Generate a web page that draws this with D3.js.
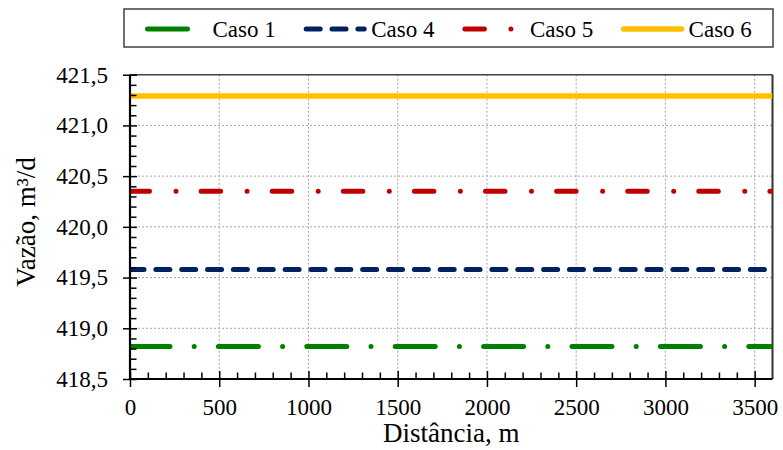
<!DOCTYPE html>
<html>
<head>
<meta charset="utf-8">
<script src="https://cdn.jsdelivr.net/npm/d3@7"></script>
<style>
  body { margin: 0; background: #fff; }
  svg { display: block; font-family: "Times New Roman", "Liberation Serif", serif; }
</style>
</head>
<body>
<div id="chart"></div>
<script>
// distances (m) and flow (m3/d) for each case
var distancia = [0, 3600];
var caso1 = [418.82, 418.82];
var caso4 = [419.58, 419.58];
var caso5 = [420.35, 420.35];
var caso6 = [421.29, 421.29];

var nomes = ["Caso 1", "Caso 4", "Caso 5", "Caso 6"];
var cores = ["#008000", "#002060", "#C00000", "#FFC000"];
var tracos = ["40,24.2,0,24.2", "14,11.85", "19.5,26.5,0,25.1", null];

var xTicks = [0, 500, 1000, 1500, 2000, 2500, 3000, 3500];
var yTicks = [418.5, 419.0, 419.5, 420.0, 420.5, 421.0, 421.5];

(function() {
  var width = 783, height = 450;
  var pLeft = 130, pRight = 772.5, pTop = 74.7, pBottom = 379;

  var svg = d3.select("#chart").append("svg")
      .attr("width", width)
      .attr("height", height);

  var x = d3.scaleLinear().domain([0, 3600]).range([pLeft, pRight]);
  var y = d3.scaleLinear().domain([418.5, 421.5]).range([pBottom, pTop]);

  var br = d3.formatLocale({decimal: ",", thousands: ".", grouping: [3], currency: ["", ""]});
  var fy = br.format(".1f");

  // grid
  var grid = svg.append("g").attr("class", "grid");
  grid.selectAll(".gx").data(xTicks.slice(1))
      .enter().append("line")
      .attr("x1", function(d){ return x(d); }).attr("x2", function(d){ return x(d); })
      .attr("y1", pTop).attr("y2", pBottom)
      .style("stroke", "#a6a6a6").style("stroke-width", 1).style("stroke-dasharray", "2,2");
  grid.selectAll(".gy").data(yTicks.slice(1, -1))
      .enter().append("line")
      .attr("y1", function(d){ return y(d); }).attr("y2", function(d){ return y(d); })
      .attr("x1", pLeft).attr("x2", pRight)
      .style("stroke", "#a6a6a6").style("stroke-width", 1).style("stroke-dasharray", "2,2");

  // frame top/right
  svg.append("line").attr("x1", pLeft).attr("x2", pRight).attr("y1", pTop).attr("y2", pTop)
      .style("stroke", "#404040").style("stroke-width", 1.5);
  svg.append("line").attr("x1", pRight).attr("x2", pRight).attr("y1", pTop).attr("y2", pBottom)
      .style("stroke", "#333").style("stroke-width", 2);

  svg.append("clipPath").attr("id", "clip")
    .append("rect").attr("x", pLeft).attr("y", pTop - 5).attr("width", pRight - pLeft).attr("height", pBottom - pTop + 10);

  var series = [caso1, caso4, caso5, caso6];
  var line = d3.line()
      .x(function(d, i){ return x(distancia[i]); })
      .y(function(d){ return y(d); });

  var lines = svg.append("g").attr("clip-path", "url(#clip)");
  series.forEach(function(s, i) {
    lines.append("path")
        .datum(s)
        .attr("d", line)
        .style("fill", "none")
        .style("stroke", cores[i])
        .style("stroke-width", i == 3 ? 5.5 : 5)
        .style("stroke-linecap", tracos[i] ? "round" : "butt")
        .style("stroke-dasharray", tracos[i]);
  });

  // minor ticks
  var xMinor = d3.range(100, 3600, 100).filter(function(d){ return d % 500 != 0; });
  var yMinor = d3.range(1, 30).map(function(d){ return 418.5 + d / 10; })
      .filter(function(d, i){ return (i + 1) % 5 != 0; });

  svg.append("g")
      .attr("transform", "translate(0," + pBottom + ")")
      .call(d3.axisBottom(x).tickValues(xMinor).tickSize(-6.5).tickFormat(""))
      .call(function(g){ g.select(".domain").remove(); })
      .selectAll("line").style("stroke", "#000").style("stroke-width", 1.5);

  svg.append("g")
      .attr("transform", "translate(" + pLeft + ",0)")
      .call(d3.axisLeft(y).tickValues(yMinor).tickSize(-6.5).tickFormat(""))
      .call(function(g){ g.select(".domain").remove(); })
      .selectAll("line").style("stroke", "#000").style("stroke-width", 1.5);

  // major axes
  var xAxis = svg.append("g")
      .attr("transform", "translate(0," + pBottom + ")")
      .call(d3.axisBottom(x).tickValues(xTicks).tickSizeOuter(0).tickFormat(d3.format("d")));
  xAxis.select(".domain").attr("d", "M" + pLeft + ",0H" + pRight).style("stroke", "#000").style("stroke-width", 2.2);
  xAxis.selectAll(".tick line").attr("y1", -8).attr("y2", 8).style("stroke", "#000").style("stroke-width", 1.5);
  xAxis.selectAll(".tick text")
      .attr("y", 36).attr("dy", null)
      .style("font-size", "23px").style("fill", "#000")
      .style("font-family", "'Times New Roman', 'Liberation Serif', serif");

  var yAxis = svg.append("g")
      .attr("transform", "translate(" + pLeft + ",0)")
      .call(d3.axisLeft(y).tickValues(yTicks).tickSizeOuter(0).tickFormat(fy));
  yAxis.select(".domain").attr("d", "M0," + pTop + "V" + pBottom).style("stroke", "#000").style("stroke-width", 2.2);
  yAxis.selectAll(".tick line").attr("x1", -7).attr("x2", 7).style("stroke", "#000").style("stroke-width", 1.5);
  yAxis.selectAll(".tick text")
      .attr("x", -22)
      .style("font-size", "23px").style("fill", "#000")
      .style("font-family", "'Times New Roman', 'Liberation Serif', serif");

  // axis titles
  svg.append("text")
      .attr("x", (pLeft + pRight) / 2)
      .attr("y", 442)
      .attr("text-anchor", "middle")
      .style("font-size", "27px")
      .text("Distância, m");

  svg.append("text")
      .attr("transform", "translate(35,222) rotate(-90)")
      .attr("text-anchor", "middle")
      .style("font-size", "27px")
      .text("Vazão, m³/d");

  // legend
  var legend = svg.append("g");
  legend.append("rect")
      .attr("x", 124).attr("y", 9).attr("width", 649).attr("height", 38)
      .style("fill", "#fff").style("stroke", "#404040").style("stroke-width", 1.5);

  nomes.forEach(function(n, i) {
    var x0 = 147.5 + i * 158.7;
    legend.append("line")
        .attr("x1", x0).attr("x2", x0 + 58)
        .attr("y1", 29).attr("y2", 29)
        .style("stroke", cores[i])
        .style("stroke-width", i == 3 ? 5.5 : 5)
        .style("stroke-linecap", "round")
        .style("stroke-dasharray", tracos[i]);
    legend.append("text")
        .attr("x", x0 + 65)
        .attr("y", 37)
        .style("font-size", "23px")
        .text(n);
  });
})();
</script>
</body>
</html>
